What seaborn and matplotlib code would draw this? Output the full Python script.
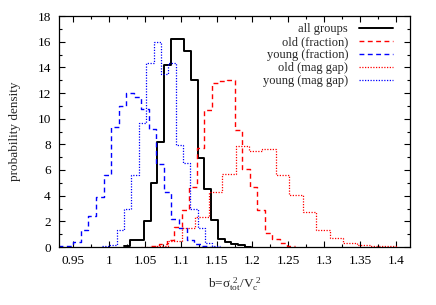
import numpy as np
import pandas as pd
import matplotlib
matplotlib.use("Agg")
import matplotlib.pyplot as plt
import seaborn as sns
from matplotlib.ticker import MultipleLocator

# ---- data (probability density per bin) ----
all_range = (1.0204, 1.1987)
all_density = [0.1, 0.55, 0.55, 2.05, 4.96, 8.2, 14.2, 16.2, 16.2, 15.3, 13.0,
               6.9, 4.5, 2.1, 0.65, 0.4, 0.25, 0.12, 0.03]

old_frac_range = (1.0590, 1.2594)
old_frac_density = [0.1, 0.2, 0.55, 1.55, 2.88, 4.7, 7.7, 10.68, 12.8, 12.95, 13.0,
                    9.1, 6.05, 4.65, 2.9, 1.07, 0.65, 0.3, 0.08]

young_frac_range = (0.9289, 1.1503)
young_frac_density = [0.05, 0.08, 0.41, 1.3, 2.42, 3.92, 5.64, 9.33, 11.0, 12.0, 11.7,
                      10.75, 9.2, 6.44, 4.3, 2.16, 1.5, 0.55, 0.2, 0.08, 0.03]

old_gap_range = (1.0448, 1.4020)
old_gap_density = [0.03, 0.1, 0.5, 1.5, 2.3, 4.27, 5.72, 7.85, 7.45, 7.6, 5.61,
                   4.02, 2.75, 1.35, 0.68, 0.35, 0.12, 0.06, 0.04]

young_gap_range = (0.9900, 1.1545)
young_gap_density = [0.08, 0.12, 1.32, 2.94, 5.6, 9.69, 14.36, 15.95, 13.46, 14.3,
                     7.95, 6.52, 2.96, 1.46, 0.29, 0.05]

labels = ["all groups", "old (fraction)", "young (fraction)", "old (mag gap)", "young (mag gap)"]
x_ticks = [0.95, 1.0, 1.05, 1.1, 1.15, 1.2, 1.25, 1.3, 1.35, 1.4]
x_tick_labels = ["0.95", "1", "1.05", "1.1", "1.15", "1.2", "1.25", "1.3", "1.35", "1.4"]
y_ticks = [0, 2, 4, 6, 8, 10, 12, 14, 16, 18]

sns.set_style("ticks")
plt.rcParams["font.family"] = ["Liberation Serif", "DejaVu Serif"]
plt.rcParams["mathtext.fontset"] = "custom"
plt.rcParams["mathtext.rm"] = "Liberation Serif"
plt.rcParams["mathtext.it"] = "Liberation Serif"

fig = plt.figure(figsize=(4.36, 3.05), dpi=100)
ax = fig.add_axes([59/436, 1-247/305, (410-59)/436, (247-16)/305])

series = [
    (all_range, all_density, "black", "-", 1.4),
    (old_frac_range, old_frac_density, "#ff0000", (0, (3.5, 2.5)), 1.0),
    (young_frac_range, young_frac_density, "#0000ff", (0, (3.5, 2.5)), 1.0),
    (old_gap_range, old_gap_density, "#ff0000", (0, (1, 1.2)), 0.9),
    (young_gap_range, young_gap_density, "#0000ff", (0, (1, 1.2)), 0.9),
]

for (rng, dens, col, ls, lw), lab in zip(series, labels):
    n = len(dens)
    w = (rng[1] - rng[0]) / n
    centers = rng[0] + w * (np.arange(n) + 0.5)
    df = pd.DataFrame({"b": centers, "density": dens})
    sns.histplot(data=df, x="b", weights="density", bins=n, binrange=rng,
                 stat="count", element="step", fill=False, color=col,
                 linestyle=ls, linewidth=lw, ax=ax, label=lab)

ax.set_xlim(0.93, 1.42)
ax.set_ylim(0, 18)
ax.set_xticks(x_ticks)
ax.set_xticklabels(x_tick_labels)
ax.set_yticks(y_ticks)
ax.xaxis.set_minor_locator(MultipleLocator(0.025))
ax.yaxis.set_minor_locator(MultipleLocator(1))
ax.tick_params(which="both", direction="in", top=True, right=True, labelsize=9.5,
               width=0.8, colors="black")
ax.tick_params(which="major", length=4.5, pad=6)
ax.tick_params(which="minor", length=2.5)
for s in ax.spines.values():
    s.set_linewidth(0.9)
    s.set_color("black")

ax.set_xlabel(r"b=$\sigma_{\rm tot}^{\ 2}$/V$_{\rm c}^{\ 2}$", fontsize=9.5, labelpad=6)
ax.set_ylabel("probability density", fontsize=9.5, labelpad=12)

leg = ax.legend(loc="upper right", frameon=False, markerfirst=False, fontsize=9,
                handlelength=2.7, handletextpad=0.9, labelspacing=0.08,
                borderpad=0.2, borderaxespad=0.2, bbox_to_anchor=(0.966, 0.99))

fig.savefig("out.png", dpi=100)
